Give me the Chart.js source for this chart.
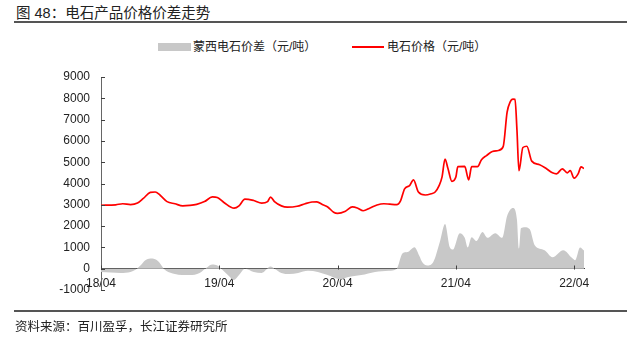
<!DOCTYPE html>
<html>
<head>
<meta charset="utf-8">
<script src="https://cdn.jsdelivr.net/npm/chart.js@4"></script>
<style>
    html, body { margin: 0; padding: 0; background: #fff; }
    body { width: 641px; height: 349px; position: relative; overflow: hidden;
        font-family: "Liberation Sans", "Noto Sans CJK SC", sans-serif; color: #222; }
    #chart { position: absolute; left: 0; top: 0; }
    .title { position: absolute; left: 16px; top: 4px; font-size: 14.5px; line-height: 18px; white-space: nowrap; }
    .rule { position: absolute; left: 14px; width: 613px; background: #555; }
    .legend { position: absolute; top: 39px; font-size: 12px; line-height: 16px; white-space: nowrap; }
    .swatch { position: absolute; }
    .source { position: absolute; left: 15px; top: 319px; font-size: 12.5px; line-height: 16px; white-space: nowrap; }
</style>
</head>
<body>
<div class="title">图 48：电石产品价格价差走势</div>
<div class="rule" style="top:21px;height:1.5px;"></div>

<div class="swatch" style="left:158px;top:43px;width:33px;height:8px;background:#c8c8c8;"></div>
<div class="legend" style="left:193px;">蒙西电石价差（元/吨）</div>
<div class="swatch" style="left:352px;top:46px;width:32px;height:2px;background:#ff0000;"></div>
<div class="legend" style="left:387px;">电石价格（元/吨）</div>

<canvas id="chart" width="641" height="349"></canvas>

<div class="rule" style="top:310px;height:2px;"></div>
<div class="source">资料来源：百川盈孚，长江证券研究所</div>

<script>
"use strict";

/* months counted from 2018/04 */
var tickMonths = [0, 12, 24, 36, 48];
var tickLabels = ['18/04', '19/04', '20/04', '21/04', '22/04'];

/* 电石价格 (元/吨) */
var priceMonths = [0, 1.5, 2.2, 3, 3.7, 4.3, 5.0, 5.5, 6.0, 6.7, 7.5, 8.3, 9.0, 9.7, 10.5, 11.3, 11.8,
    12.5, 13.5, 14.0, 14.6, 15.5, 16.3, 16.9, 17.2, 17.6, 18.3, 18.9, 19.9, 20.7, 21.4, 21.9, 22.5, 23.0, 23.6,
    24.0, 24.8, 25.5, 26.0, 26.6, 27.3, 28.0, 28.7, 29.3, 30.0, 30.4, 30.8, 31.3, 31.7, 32.2, 32.9, 33.5, 33.9,
    34.3, 34.6, 34.9, 35.2, 35.6, 36.0, 36.2, 36.9, 37.3, 37.6, 38.2, 38.6, 39.1, 39.7, 40.3, 40.8, 41.2, 41.5,
    41.8, 42.0, 42.2, 42.4, 42.8, 43.2, 43.7, 44.5, 45.2, 45.8, 46.2, 46.8, 47.3, 47.6, 48.0, 48.4, 48.7, 49.0];
var priceValues = [2980, 3000, 3050, 3010, 3080, 3300, 3580, 3600, 3450, 3150, 3050, 2950, 2970, 3020, 3150, 3370, 3340,
    3100, 2840, 2950, 3270, 3200, 3080, 3150, 3360, 3150, 2950, 2890, 2930, 3050, 3130, 3140, 3000, 2900, 2650,
    2600, 2700, 2900, 2850, 2720, 2850, 2990, 3050, 3030, 3010, 3200, 3750, 3900, 4170, 3600, 3460, 3520, 3600,
    3900, 4310, 5150, 4700, 4100, 4300, 4790, 4800, 4170, 4790, 4790, 5120, 5310, 5500, 5550, 5730, 7350, 7820,
    7960, 7950, 6500, 4600, 5690, 5750, 5050, 4880, 4690, 4500, 4450, 4690, 4500, 4600, 4250, 4450, 4780, 4700];

/* 蒙西电石价差 (元/吨) */
var spreadMonths = [0, 1, 2, 3, 3.5, 4.0, 4.5, 5.2, 5.8, 6.3, 6.6, 7.5, 8.2, 9.0, 10.0, 10.7, 11.3, 11.8,
    12.2, 13.0, 13.5, 14.0, 14.6, 15.5, 16.3, 17.2, 17.6, 18.3, 19.1, 20.0, 21.0, 22.0, 23.0, 24.3, 25.0, 26.4,
    27.8, 29.2, 30.0, 30.6, 31.1, 31.8, 32.3, 32.6, 33.1, 33.7, 34.4, 34.9, 35.4, 35.7, 36.4, 36.9, 37.2, 37.6,
    38.1, 38.7, 39.2, 40.0, 40.7, 41.2, 41.8, 42.2, 42.4, 42.6, 43.0, 43.5, 44.0, 45.0, 45.8, 46.9, 47.8, 48.1,
    48.6, 49.0];
var spreadValues = [-150, -180, -200, -150, -50, 150, 400, 480, 350, 50, -100, -250, -300, -300, -200, 50, 200, 150,
    0, -350, -530, -300, 0, -150, -200, 100, 0, -200, -250, -200, -100, -150, -300, -500, -400, -300,
    -150, -100, 0, 720, 780, 1010, 600, 300, 150, 300, 1300, 2100, 1000, 900, 1670, 1450, 1000, 1480,
    1300, 1720, 1450, 1670, 1450, 2470, 2850, 2300, 950, 1900, 1950, 1850, 1100, 870, 540, 870, 500, 400,
    1000, 850];

function toPoints(xs, ys) {
    return xs.map(function (m, i) { return { x: m, y: ys[i] }; });
}

/* tick marks pointing into the plot */
var innerTicks = {
    id: 'innerTicks',
    afterDraw: function (chart) {
        var ctx = chart.ctx, xs = chart.scales.x, ys = chart.scales.y;
        var y0 = Math.round(ys.getPixelForValue(0)) + 0.5;
        ctx.save();
        ctx.strokeStyle = '#404040';
        ctx.lineWidth = 1;
        ctx.beginPath();
        ys.ticks.forEach(function (t, i) {
            var py = Math.round(ys.getPixelForTick(i)) + 0.5;
            ctx.moveTo(ys.right, py);
            ctx.lineTo(ys.right + 4, py);
        });
        xs.ticks.forEach(function (t, i) {
            var px = Math.round(xs.getPixelForTick(i)) + 0.5;
            ctx.moveTo(px, y0);
            ctx.lineTo(px, y0 - 4);
        });
        ctx.stroke();
        ctx.restore();
    }
};

var ctx = document.getElementById('chart').getContext('2d');

var config = {
    type: 'line',
    data: {
        datasets: [{
            label: '电石价格（元/吨）',
            data: toPoints(priceMonths, priceValues),
            borderColor: '#ff0000',
            borderWidth: 1.7,
            pointRadius: 0,
            fill: false,
            cubicInterpolationMode: 'monotone',
            order: 1
        },
        {
            label: '蒙西电石价差（元/吨）',
            data: toPoints(spreadMonths, spreadValues),
            borderWidth: 0,
            borderColor: 'rgba(0,0,0,0)',
            backgroundColor: '#c8c8c8',
            pointRadius: 0,
            fill: 'origin',
            cubicInterpolationMode: 'monotone',
            order: 2
        }]
    },
    options: {
        responsive: false,
        animation: false,
        devicePixelRatio: 1,
        layout: {
            padding: { left: 0, right: 57, top: 77, bottom: 59 }
        },
        plugins: {
            legend: { display: false },
            tooltip: { enabled: false }
        },
        scales: {
            x: {
                type: 'linear',
                position: { y: 0 },
                min: 0,
                max: 49,
                afterBuildTicks: function (scale) {
                    scale.ticks = tickMonths.map(function (v) { return { value: v }; });
                },
                grid: { display: false, drawTicks: false },
                border: { display: true, color: '#404040', width: 1 },
                ticks: {
                    autoSkip: false,
                    maxRotation: 0,
                    padding: 8,
                    color: '#222',
                    font: { family: 'Liberation Sans', size: 12 },
                    callback: function (value) {
                        var i = tickMonths.indexOf(value);
                        return i >= 0 ? tickLabels[i] : '';
                    }
                }
            },
            y: {
                min: -1000,
                max: 9000,
                afterFit: function (scale) { scale.width = 101; },
                grid: { display: false, drawTicks: false },
                border: { display: true, color: '#666', width: 1 },
                ticks: {
                    stepSize: 1000,
                    padding: 11,
                    color: '#222',
                    font: { family: 'Liberation Sans', size: 12 },
                    callback: function (value) { return String(value); }
                }
            }
        }
    },
    plugins: [innerTicks]
};

var myChart = new Chart(ctx, config);
</script>
</body>
</html>
